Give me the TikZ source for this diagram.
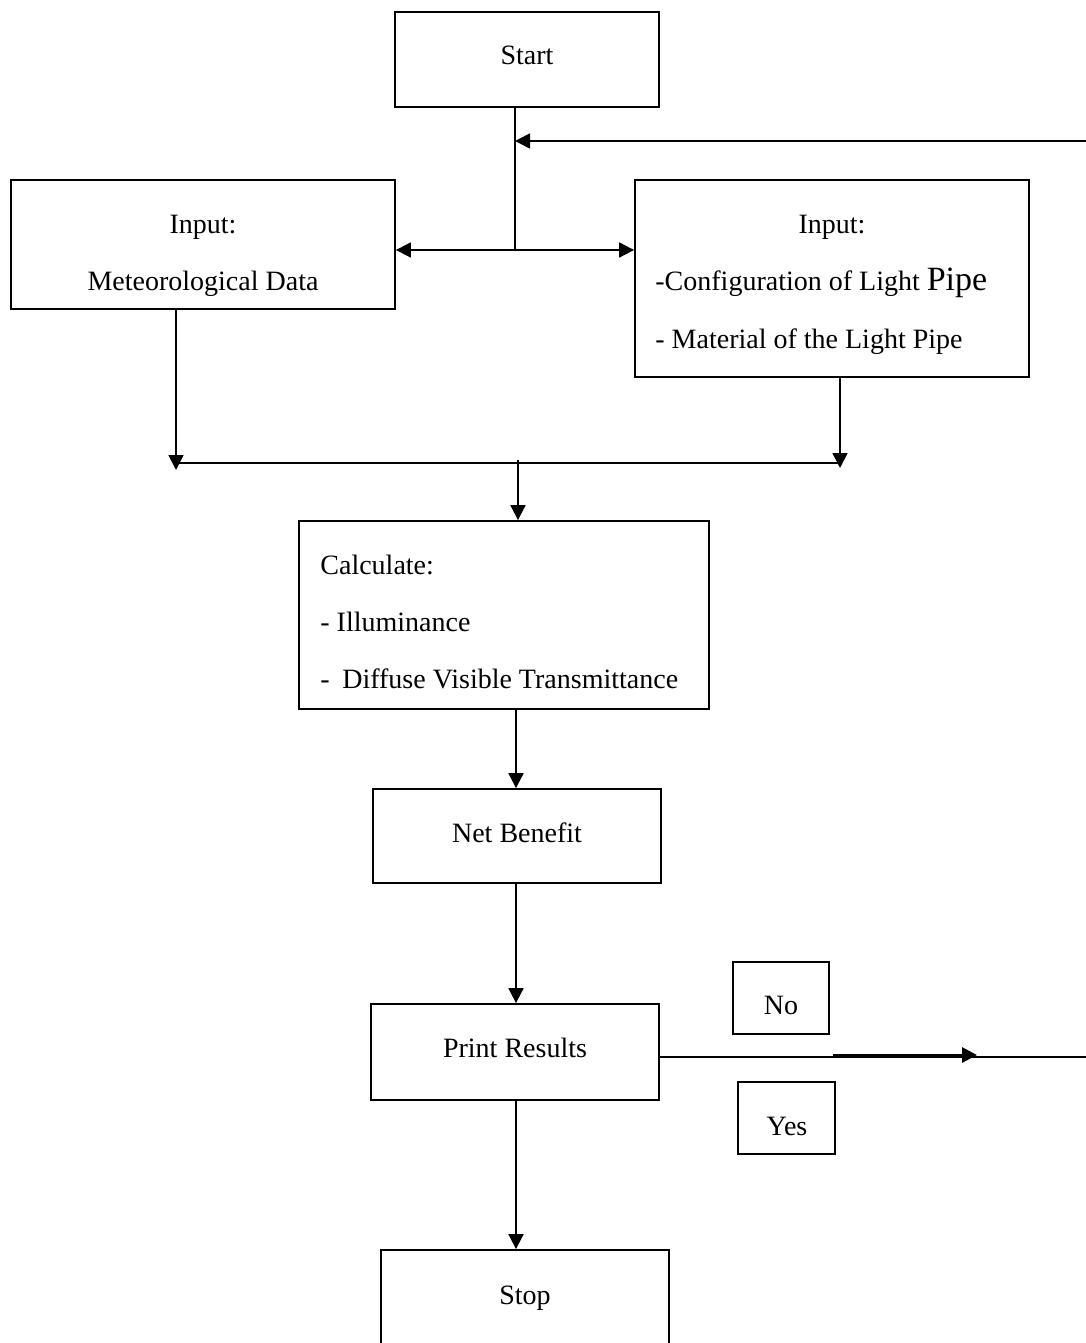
\documentclass[tikz,border=0pt]{standalone}
\usepackage{fontspec}
\setmainfont{Liberation Serif}
\usetikzlibrary{arrows.meta,fit}
\begin{document}
\begin{tikzpicture}[x=0.5pt,y=-0.5pt,
 box/.style={draw,line width=0.9pt,inner sep=0pt},
 con/.style={line width=0.9pt},
 arr/.style={con,-{Triangle[length=7.5pt,width=7.5pt]}},
 txt/.style={font=\fontsize{14}{17}\selectfont,inner sep=0pt},
 ctxt/.style={txt,anchor=mid},
 ltxt/.style={txt,anchor=mid west}]
\useasboundingbox (0,0) rectangle (1086,1343);
% boxes
\node[box,fit={(395,12)(659,107)}] (start) {};
\node[box,fit={(11,180)(395,309)}] (inL) {};
\node[box,fit={(635,180)(1029,377)}] (inR) {};
\node[box,fit={(299,521)(709,709)}] (calc) {};
\node[box,fit={(373,789)(661,883)}] (net) {};
\node[box,fit={(371,1004)(659,1100)}] (print) {};
\node[box,fit={(733,962)(829,1034)}] (no) {};
\node[box,fit={(738,1082)(835,1154)}] (yes) {};
\node[box,fit={(381,1250)(669,1370)}] (stop) {};
% texts
\node[ctxt] (tStart) at (527,60) {Start};
\node[ctxt] (tL1) at (203,229) {Input:};
\node[ctxt] (tL2) at (203,286) {Meteorological Data};
\node[ctxt] (tR1) at (832,229) {Input:};
\node[ltxt] (tR2) at (655,286) {-Configuration of Light {\fontsize{17}{20}\selectfont Pipe}};
\node[ltxt] (tR3) at (655,344) {- Material of the Light Pipe};
\node[ltxt] (tC1) at (320,570) {Calculate:};
\node[ltxt] (tC2) at (320,627) {- Illuminance};
\node[ltxt] (tC3) at (320,684) {-\hspace{0.45em}Diffuse Visible Transmittance};
\node[ctxt] (tNet) at (517,838) {Net Benefit};
\node[ctxt] (tPrint) at (515,1053) {Print Results};
\node[ctxt] (tNo) at (781,1010) {No};
\node[ctxt] (tYes) at (787,1131) {Yes};
\node[ctxt] (tS) at (525,1300) {Stop};
% connector coordinates
\coordinate (j1) at (515,250);
\coordinate (fbR) at (1086,141);
\coordinate (mL) at (176,463);
\coordinate (mLe) at (176,470);
\coordinate (mR) at (840,463);
\coordinate (mRe) at (840,468);
\coordinate (m) at (518,460);
\coordinate (ax) at (516,0);
\coordinate (noR) at (1086,1057);
\coordinate (ma) at (833,1055);
\coordinate (mb) at (977,1055);
% connectors
\draw[con] (start.south -| j1) -- (j1);
\draw[arr] (j1) -- (inL.east |- j1);
\draw[arr] (j1) -- (inR.west |- j1);
\draw[arr] (fbR) -- (fbR -| j1);
\draw[arr] (inL.south -| mL) -- (mLe);
\draw[arr] (inR.south -| mR) -- (mRe);
\draw[con] (mL) -- (mR);
\draw[arr] (m) -- (calc.north -| m);
\draw[arr] (calc.south -| ax) -- (net.north -| ax);
\draw[arr] (net.south -| ax) -- (print.north -| ax);
\draw[arr] (print.south -| ax) -- (stop.north -| ax);
\draw[con] (print.east |- noR) -- (noR);
\draw[arr,line width=1.5pt] (ma) -- (mb);
\end{tikzpicture}
\end{document}
